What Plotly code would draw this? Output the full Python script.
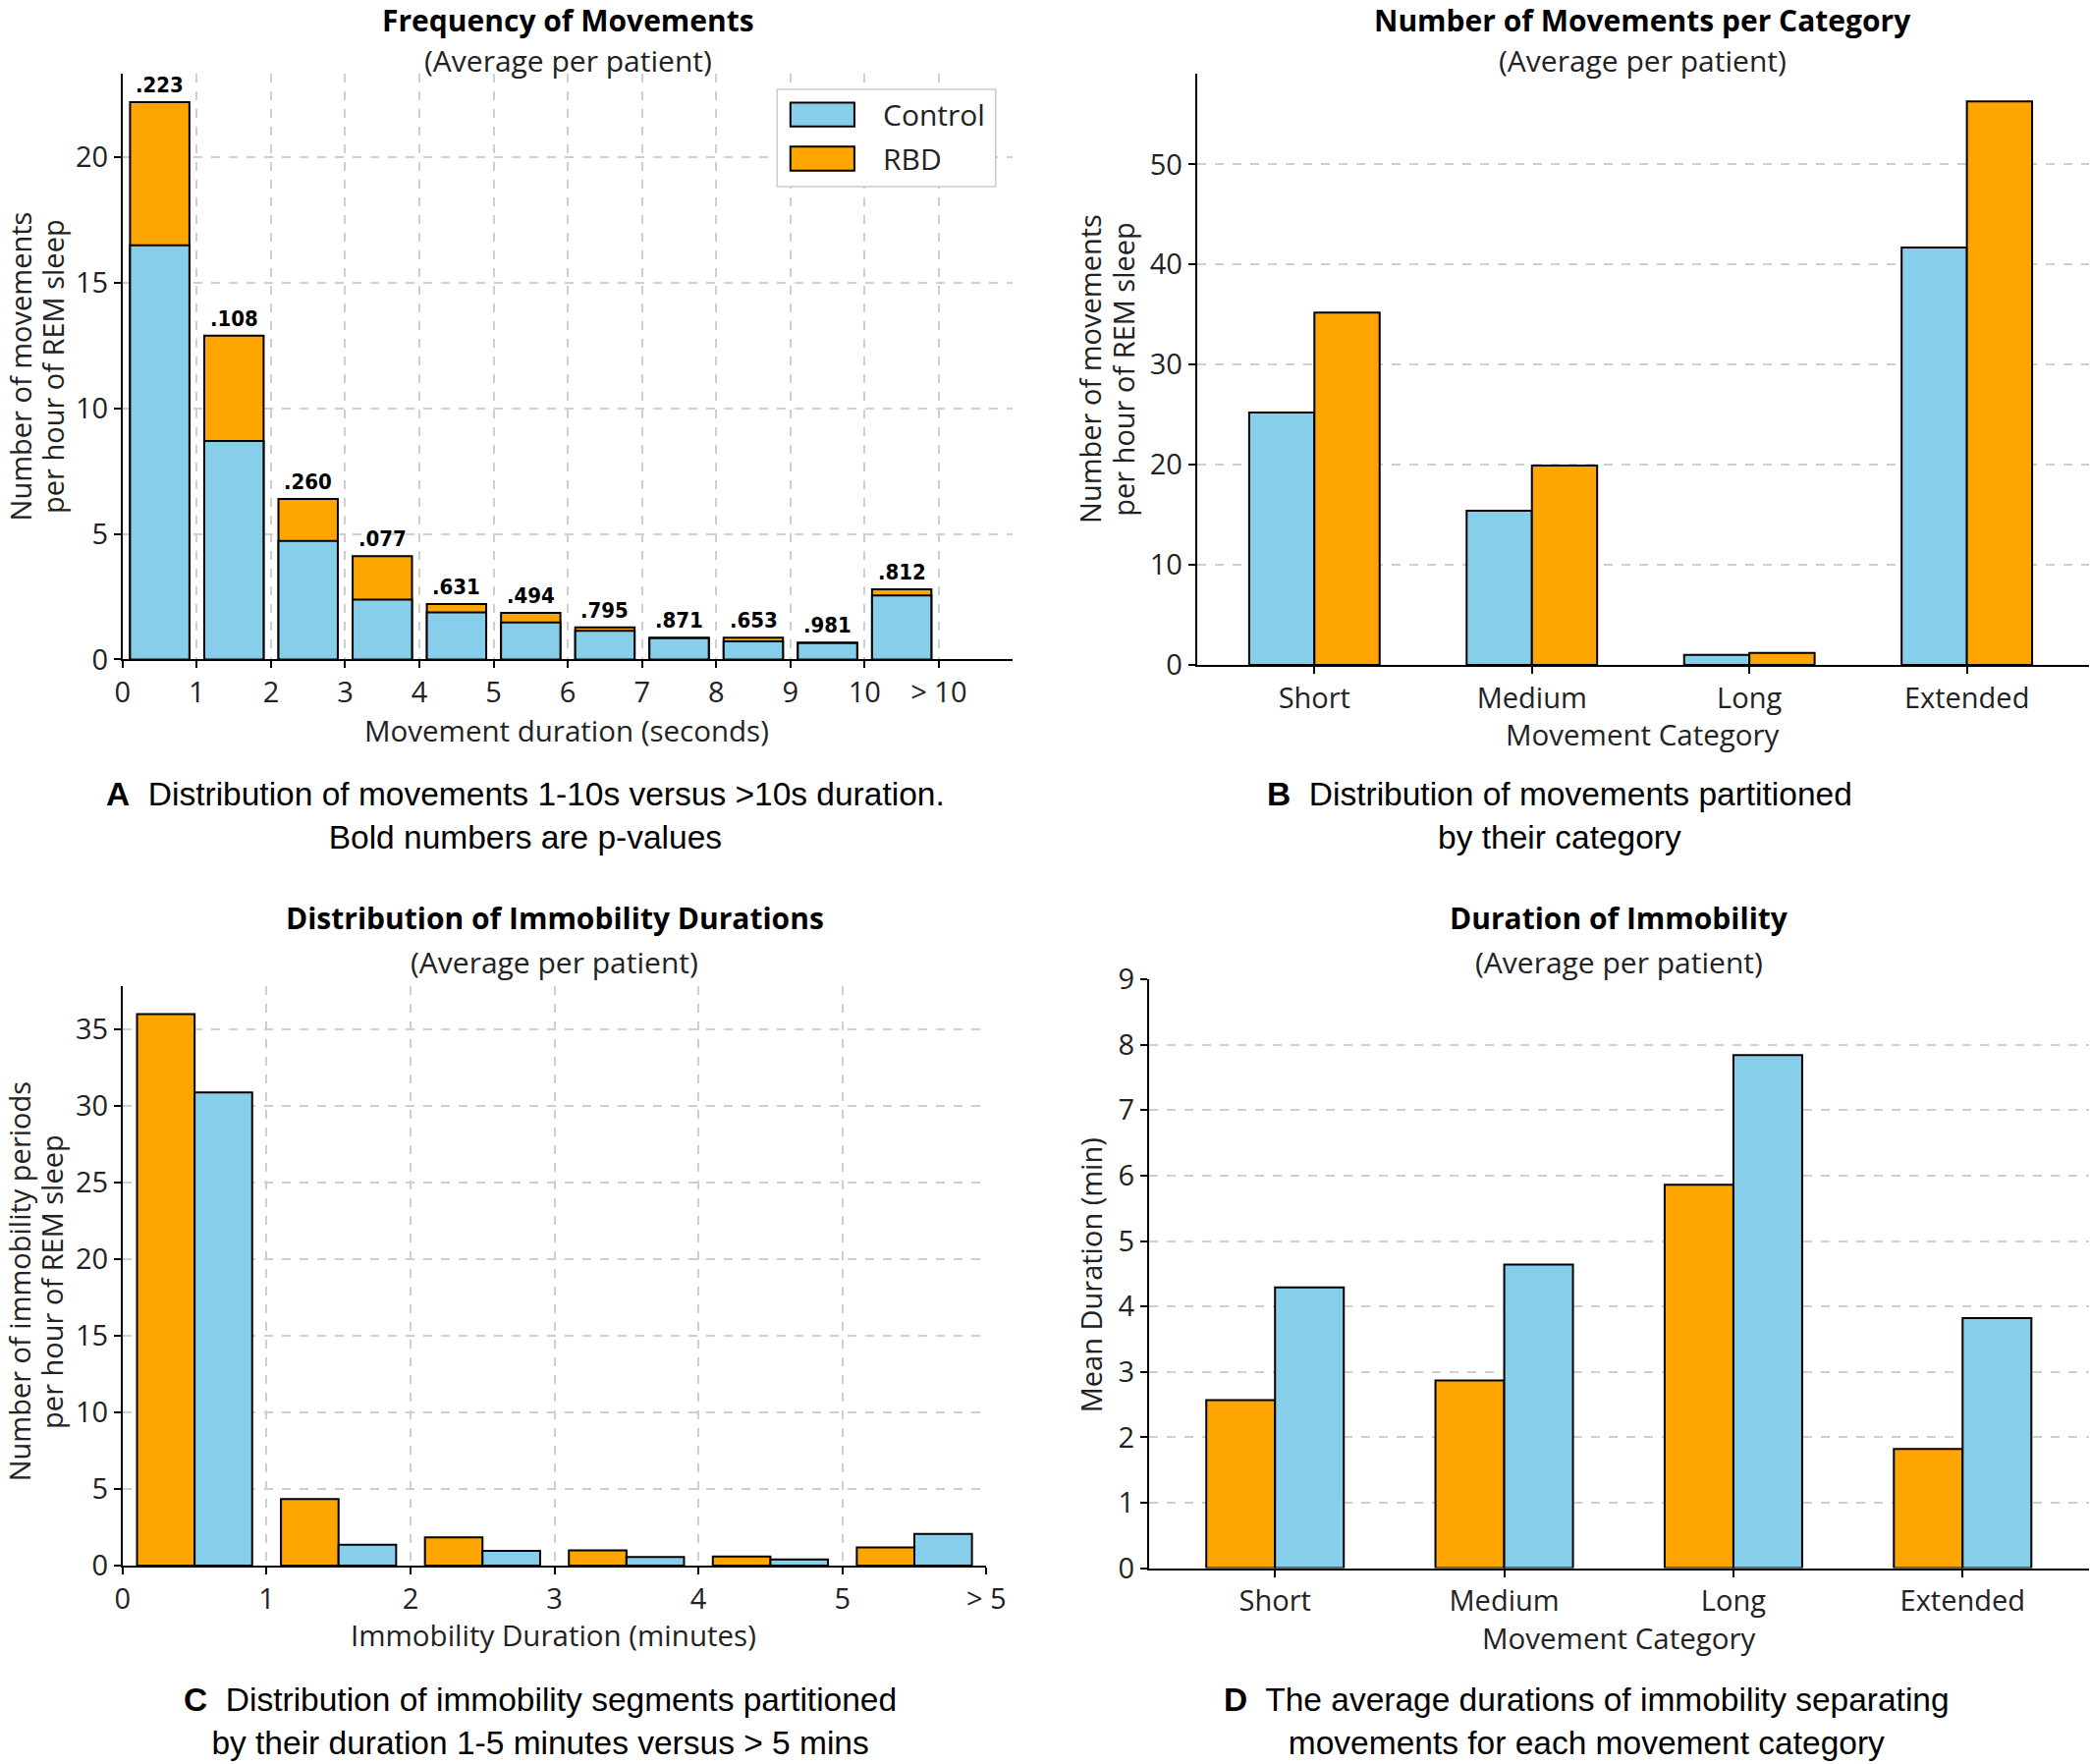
import plotly.graph_objects as go

# ---- data ----
# A: frequency of movements per duration bin (average per patient)
bins_a = list(range(11))
bin_labels_a = ["0", "1", "2", "3", "4", "5", "6", "7", "8", "9", "10", "> 10"]
control_a = [16.5, 8.7, 4.72, 2.39, 1.88, 1.48, 1.14, 0.85, 0.72, 0.65, 2.55]
rbd_a = [22.2, 12.9, 6.4, 4.12, 2.21, 1.86, 1.28, 0.87, 0.87, 0.67, 2.8]
pvalues_a = [".223", ".108", ".260", ".077", ".631", ".494", ".795", ".871", ".653", ".981", ".812"]

# B: movements per category
categories = ["Short", "Medium", "Long", "Extended"]
control_b = [25.2, 15.4, 1.0, 41.7]
rbd_b = [35.2, 19.9, 1.18, 56.3]

# C: immobility durations (minutes)
bins_c = list(range(6))
bin_labels_c = ["0", "1", "2", "3", "4", "5", "> 5"]
rbd_c = [35.96, 4.34, 1.84, 0.99, 0.59, 1.18]
control_c = [30.85, 1.36, 0.96, 0.55, 0.40, 2.06]

# D: mean immobility duration per movement category
rbd_d = [2.57, 2.87, 5.86, 1.82]
control_d = [4.29, 4.64, 7.84, 3.82]

BLUE = "#87CEEB"
ORANGE = "#FFA500"
FONT = "Open Sans"
CAP_FONT = "Liberation Sans"
TXT = "#222222"
FS = 29

W, H = 2128, 1796
REF_W, REF_H = 1568, 1324  # coordinates below measured on this scale


def px(x):
    return x / REF_W


def py(y):
    return 1 - y / REF_H


line = dict(color="black", width=2)
fig = go.Figure()

# --- A (overlay: RBD behind, Control in front) ---
fig.add_trace(go.Bar(x=bins_a, y=rbd_a, name="RBD", marker=dict(color=ORANGE, line=line),
                     offset=0.1, width=0.8, xaxis="x", yaxis="y"))
fig.add_trace(go.Bar(x=bins_a, y=control_a, name="Control", marker=dict(color=BLUE, line=line),
                     offset=0.1, width=0.8, xaxis="x", yaxis="y"))

# --- B ---
fig.add_trace(go.Bar(x=categories, y=control_b, marker=dict(color=BLUE, line=line), offset=-0.3,
                     width=0.3, xaxis="x2", yaxis="y2"))
fig.add_trace(go.Bar(x=categories, y=rbd_b, marker=dict(color=ORANGE, line=line), offset=0,
                     width=0.3, xaxis="x2", yaxis="y2"))

# --- C ---
fig.add_trace(go.Bar(x=bins_c, y=rbd_c, marker=dict(color=ORANGE, line=line), offset=0.1,
                     width=0.4, xaxis="x3", yaxis="y3"))
fig.add_trace(go.Bar(x=bins_c, y=control_c, marker=dict(color=BLUE, line=line), offset=0.5,
                     width=0.4, xaxis="x3", yaxis="y3"))

# --- D ---
fig.add_trace(go.Bar(x=categories, y=rbd_d, marker=dict(color=ORANGE, line=line), offset=-0.3,
                     width=0.3, xaxis="x4", yaxis="y4"))
fig.add_trace(go.Bar(x=categories, y=control_d, marker=dict(color=BLUE, line=line), offset=0,
                     width=0.3, xaxis="x4", yaxis="y4"))

axis_common = dict(showline=True, linecolor="black", linewidth=2, ticks="outside", ticklen=7,
                   tickwidth=2, tickcolor="black", zeroline=False, mirror=False, automargin=False,
                   tickfont=dict(family=FONT, size=FS, color=TXT),
                   gridcolor="#cfcfcf", gridwidth=1.5, griddash="dash")

fig.update_layout(
    template="none", width=W, height=H, barmode="overlay", plot_bgcolor="white", paper_bgcolor="white",
    margin=dict(l=0, r=0, t=0, b=0, pad=0, autoexpand=False), showlegend=False,
    xaxis=dict(axis_common, domain=[px(92), px(760)], range=[0, 12], anchor="y",
               tickvals=list(range(12)), ticktext=bin_labels_a, showgrid=True),
    yaxis=dict(axis_common, domain=[py(495), py(55)], range=[0, 23.35], anchor="x",
               tickvals=[0, 5, 10, 15, 20], showgrid=True),
    xaxis2=dict(axis_common, domain=[px(898), px(1567)], range=[-0.54, 3.56], anchor="y2",
                type="category", showgrid=False),
    yaxis2=dict(axis_common, domain=[py(499), py(55)], range=[0, 59.1], anchor="x2",
                tickvals=[0, 10, 20, 30, 40, 50], showgrid=True),
    xaxis3=dict(axis_common, domain=[px(92), px(740)], range=[0, 6], anchor="y3",
                tickvals=list(range(7)), ticktext=bin_labels_c, showgrid=True),
    yaxis3=dict(axis_common, domain=[py(1175), py(740)], range=[0, 37.8], anchor="x3",
                tickvals=[0, 5, 10, 15, 20, 25, 30, 35], showgrid=True),
    xaxis4=dict(axis_common, domain=[px(862), px(1567)], range=[-0.55, 3.55], anchor="y4",
                type="category", showgrid=False),
    yaxis4=dict(axis_common, domain=[py(1177), py(735)], range=[0, 9], anchor="x4",
                tickvals=list(range(10)), showgrid=True),
)

# p-values over the bars of A
for b, r, c, p in zip(bins_a, rbd_a, control_a, pvalues_a):
    fig.add_annotation(x=b + 0.5, y=max(r, c), xref="x", yref="y", text="<b>%s</b>" % p,
                       showarrow=False, yanchor="bottom", yshift=3,
                       font=dict(family="DejaVu Sans Condensed, DejaVu Sans", size=22, color="black"))


def note(x, y, text, size=FS, family=FONT, angle=0, color=TXT, xanchor="center"):
    fig.add_annotation(x=px(x), y=py(y), xref="paper", yref="paper", text=text, showarrow=False,
                       xanchor=xanchor, yanchor="middle", textangle=angle,
                       font=dict(family=family, size=size, color=color))


# legend of A (matplotlib-style wide patches)
fig.add_shape(type="rect", xref="paper", yref="paper", x0=px(583), x1=px(747), y0=py(140), y1=py(67),
              line=dict(color="#cccccc", width=1.5), fillcolor="white", layer="above")
for i, (lab, col) in enumerate([("Control", BLUE), ("RBD", ORANGE)]):
    yc = 86 + 33 * i
    fig.add_shape(type="rect", xref="paper", yref="paper", x0=px(593), x1=px(641),
                  y0=py(yc + 9), y1=py(yc - 9), line=dict(color="black", width=2),
                  fillcolor=col, layer="above")
    note(661, yc, lab, xanchor="left", size=30)

# titles and subtitles
for cx, ty, title in [(426, 15, "Frequency of Movements"), (1232, 15, "Number of Movements per Category"),
                      (416, 689, "Distribution of Immobility Durations"), (1215, 689, "Duration of Immobility")]:
    note(cx, ty, "<b>%s</b>" % title, size=30, color="black")
    note(cx, 45 if ty < 100 else ty + 33, "(Average per patient)", size=30)

# axis titles
note(425, 548, "Movement duration (seconds)", size=29.5)
note(1232, 551, "Movement Category", size=29.5)
note(415, 1227, "Immobility Duration (minutes)", size=29.5)
note(1215, 1229, "Movement Category", size=29.5)
for xa, xb, yc, l1, l2 in [(15, 39, 275, "Number of movements", "per hour of REM sleep"),
                           (818, 843, 277, "Number of movements", "per hour of REM sleep"),
                           (15, 39, 962, "Number of immobility periods", "per hour of REM sleep")]:
    note(xa, yc, l1, angle=-90)
    note(xb, yc, l2, angle=-90)
note(818, 957, "Mean Duration (min)", angle=-90)

# captions
cap = dict(size=33.5, family=CAP_FONT, color="black")
note(394, 612, "<b>A</b>  Distribution of movements 1-10s versus >10s duration.<br>Bold numbers are p-values", **cap)
note(1170, 612, "<b>B</b>  Distribution of movements partitioned<br>by their category", **cap)
note(405, 1292, "<b>C</b>  Distribution of immobility segments partitioned<br>by their duration 1-5 minutes versus > 5 mins", **cap)
note(1190, 1292, "<b>D</b>  The average durations of immobility separating<br>movements for each movement category", **cap)

fig.write_html("out.html", config={"displayModeBar": False},
               post_script="document.body.style.margin='0';"
                           "document.documentElement.style.overflow='hidden';")
